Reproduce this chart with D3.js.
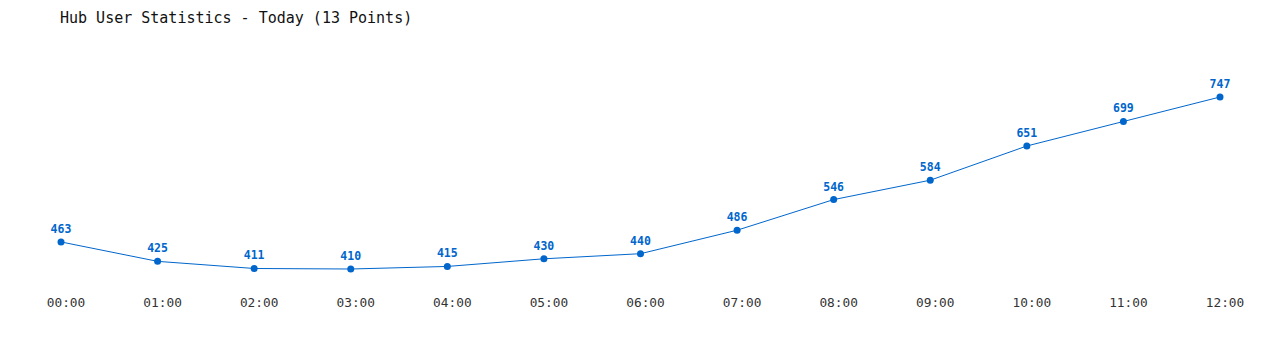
<!DOCTYPE html>
<html><head><meta charset="utf-8">
<script src="https://cdn.jsdelivr.net/npm/d3@7"></script>
<style>body{margin:0;background:#fff}svg{display:block}</style>
</head><body>
<svg id="c" width="1280" height="350"></svg>
<script>
const categories = ["00:00","01:00","02:00","03:00","04:00","05:00","06:00","07:00","08:00","09:00","10:00","11:00","12:00"];
const values = [463,425,411,410,415,430,440,486,546,584,651,699,747];
const title = "Hub User Statistics - Today (13 Points)";

const svg = d3.select("#c");
const color = "#0066cc";
const font = "'DejaVu Sans Mono', 'Liberation Mono', monospace";

const x = d3.scalePoint().domain(categories).range([61, 1220]);
const y = d3.scaleLinear().domain([410, 747]).range([269, 97]);

svg.append("text").attr("x", 60).attr("y", 23)
  .attr("font-family", font).attr("font-size", 15).attr("fill", "#111")
  .text(title);

const xAxis = d3.axisBottom(x).tickSize(0).tickPadding(0);
const gx = svg.append("g").attr("transform", "translate(4.5,298)").call(xAxis);
gx.select(".domain").remove();
gx.selectAll("text").attr("font-family", font).attr("font-size", 12.8).attr("fill", "#333").attr("dy", "0.71em");

const data = categories.map((c, i) => ({c, v: values[i]}));

svg.append("path").datum(data)
  .attr("fill", "none").attr("stroke", color).attr("stroke-width", 1)
  .attr("d", d3.line().x(d => x(d.c)).y(d => y(d.v)));

svg.selectAll("circle.pt").data(data).join("circle")
  .attr("cx", d => x(d.c)).attr("cy", d => y(d.v)).attr("r", 3.5).attr("fill", color);

svg.selectAll("text.lbl").data(data).join("text")
  .attr("x", d => x(d.c)).attr("y", d => y(d.v) - 9)
  .attr("text-anchor", "middle").attr("font-family", font).attr("font-weight", "bold")
  .attr("font-size", 11.5).attr("fill", color).text(d => d.v);
</script>
</body></html>
